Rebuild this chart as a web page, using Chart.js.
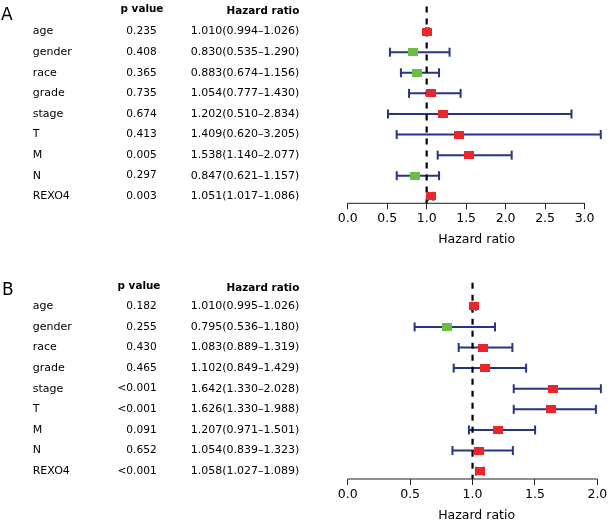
<!DOCTYPE html>
<html><head><meta charset="utf-8">
<script src="https://cdn.jsdelivr.net/npm/chart.js@4.4.1/dist/chart.umd.min.js"></script>
<style>
html,body{margin:0;padding:0;background:#fff;}
#wrap{position:relative;width:612px;height:524px;overflow:hidden;font-family:"DejaVu Sans",sans-serif;color:#000;}
canvas{position:absolute;left:0;}
.lbl{position:absolute;white-space:nowrap;}
.panel{font-size:17px;line-height:17px;}
.hdr{font-size:10.4px;line-height:10.4px;font-weight:bold;}
</style></head>
<body><div id="wrap">
<canvas id="cA" width="612" height="260" style="top:0"></canvas>
<canvas id="cB" width="612" height="264" style="top:260px"></canvas>
<div class="lbl panel" style="left:1px;top:6.3px">A</div>
<div class="lbl hdr" style="left:102px;width:80px;text-align:center;top:3.1px">p value</div>
<div class="lbl hdr" style="right:312.7px;top:4.9px">Hazard ratio</div>
<div class="lbl panel" style="left:2px;top:281.3px">B</div>
<div class="lbl hdr" style="left:99px;width:80px;text-align:center;top:279.8px">p value</div>
<div class="lbl hdr" style="right:312.7px;top:281.5px">Hazard ratio</div>
</div>
<script>
const rowNames = ['age','gender','race','grade','stage','T','M','N','REXO4'];

const pValuesA = ['0.235','0.408','0.365','0.735','0.674','0.413','0.005','0.297','0.003'];
const hrA    = [1.010, 0.830, 0.883, 1.054, 1.202, 1.409, 1.538, 0.847, 1.051];
const lowerA = [0.994, 0.535, 0.674, 0.777, 0.510, 0.620, 1.140, 0.621, 1.017];
const upperA = [1.026, 1.290, 1.156, 1.430, 2.834, 3.205, 2.077, 1.157, 1.086];

const pValuesB = ['0.182','0.255','0.430','0.465','<0.001','<0.001','0.091','0.652','<0.001'];
const hrB    = [1.010, 0.795, 1.083, 1.102, 1.642, 1.626, 1.207, 1.054, 1.058];
const lowerB = [0.995, 0.536, 0.889, 0.849, 1.330, 1.330, 0.971, 0.839, 1.027];
const upperB = [1.026, 1.180, 1.319, 1.429, 2.028, 1.988, 1.501, 1.323, 1.089];

const xTicksA = [0, 0.5, 1, 1.5, 2, 2.5, 3];
const xTicksB = [0, 0.5, 1, 1.5, 2];
const refValue = 1;

const FONT = 'DejaVu Sans';
const NAVY = '#283584';
const RED = '#e8262b';
const GREEN = '#6cbd45';

function makeBox(color) {
  const c = document.createElement('canvas');
  c.width = 10; c.height = 8;
  const g = c.getContext('2d');
  g.fillStyle = color; g.fillRect(0, 0, 10, 8);
  return c;
}
const redBox = makeBox(RED), greenBox = makeBox(GREEN);

function forest(id, p, hr, lo, hi, ticks, lay) {
  const rows = rowNames.map((_, i) => i);
  const hrText = hr.map((v, i) => v.toFixed(3) + '(' + lo[i].toFixed(3) + '–' + hi[i].toFixed(3) + ')');
  const datasets = [
    {label: 'HR', data: rows.map(i => ({x: hr[i], y: i})), pointStyle: hr.map(v => v >= 1 ? redBox : greenBox),
     pointRadius: 5, order: 0, clip: false},
    {label: 'ref', data: [{x: refValue, y: lay.yMin}, {x: refValue, y: lay.yMax}], showLine: true,
     borderColor: '#000', borderWidth: 2.2, borderDash: [6, 6], pointRadius: 0, order: 1, clip: false},
    {label: 'caps', data: rows.flatMap(i => [{x: lo[i], y: i}, {x: hi[i], y: i}]), pointStyle: 'line',
     pointRotation: 90, pointRadius: 4.5, pointBorderWidth: 2, pointBorderColor: NAVY, order: 2, clip: false},
    ...rows.map(i => ({label: 'ci' + i, data: [{x: lo[i], y: i}, {x: hi[i], y: i}], showLine: true,
     borderColor: NAVY, borderWidth: 2, pointRadius: 0, order: 3, clip: false})),
    {label: 'axis', data: [{x: ticks[0], y: lay.yMax}, {x: ticks[ticks.length - 1], y: lay.yMax}], showLine: true,
     borderColor: '#222', borderWidth: 1, pointRadius: 0, order: 4, clip: false}
  ];
  function yAxis(labels, weight, width, align, pad, size) {
    return {
      type: 'linear', position: 'left', weight: weight, reverse: true, min: lay.yMin, max: lay.yMax,
      afterBuildTicks: s => { s.ticks = rows.map(v => ({value: v})); },
      ticks: {callback: v => labels[v], crossAlign: align, padding: pad, font: {family: FONT, size: size},
              color: '#000', autoSkip: false},
      grid: {display: false, drawTicks: false}, border: {display: false},
      afterFit: s => { s.width = width; s.paddingTop = 0; s.paddingBottom = 0; }
    };
  }
  new Chart(document.getElementById(id), {
    type: 'scatter',
    data: {datasets: datasets},
    options: {
      responsive: false, animation: false, devicePixelRatio: 1, events: [],
      layout: {padding: {left: 32.7, right: 2, top: lay.padTop, bottom: lay.padBottom}},
      plugins: {legend: {display: false}, tooltip: {enabled: false}},
      scales: {
        x: {
          type: 'linear', min: 0, max: lay.xMax,
          afterBuildTicks: s => { s.ticks = ticks.map(v => ({value: v})); },
          ticks: {callback: v => Number(v).toFixed(1), font: {family: FONT, size: 12.5}, color: '#000',
                  padding: 2, autoSkip: false, maxRotation: 0},
          grid: {drawOnChartArea: false, drawTicks: true, tickLength: 6, color: '#222', lineWidth: 1},
          border: {display: false},
          title: {display: true, text: 'Hazard ratio', font: {family: FONT, size: 12.5}, color: '#000', padding: 0},
          afterFit: s => { s.height = 44.2; s.paddingLeft = 0; s.paddingRight = 0; }
        },
        y: yAxis(rowNames, 3, 80, 'far', 0, 11),
        yp: yAxis(p, 2, 54, 'near', 10, 10.6),
        yh: yAxis(hrText, 1, 181, 'near', 48.4, 11)
      }
    }
  });
}

forest('cA', pValuesA, hrA, lowerA, upperA, xTicksA,
  {yMin: -1.22, yMax: 8.34, xMax: 3.265, padTop: 5, padBottom: 12.5});
forest('cB', pValuesB, hrB, lowerB, upperB, xTicksB,
  {yMin: -1.145, yMax: 8.38, xMax: 2.065, padTop: 22.7, padBottom: 0.8});
</script>
</body></html>
